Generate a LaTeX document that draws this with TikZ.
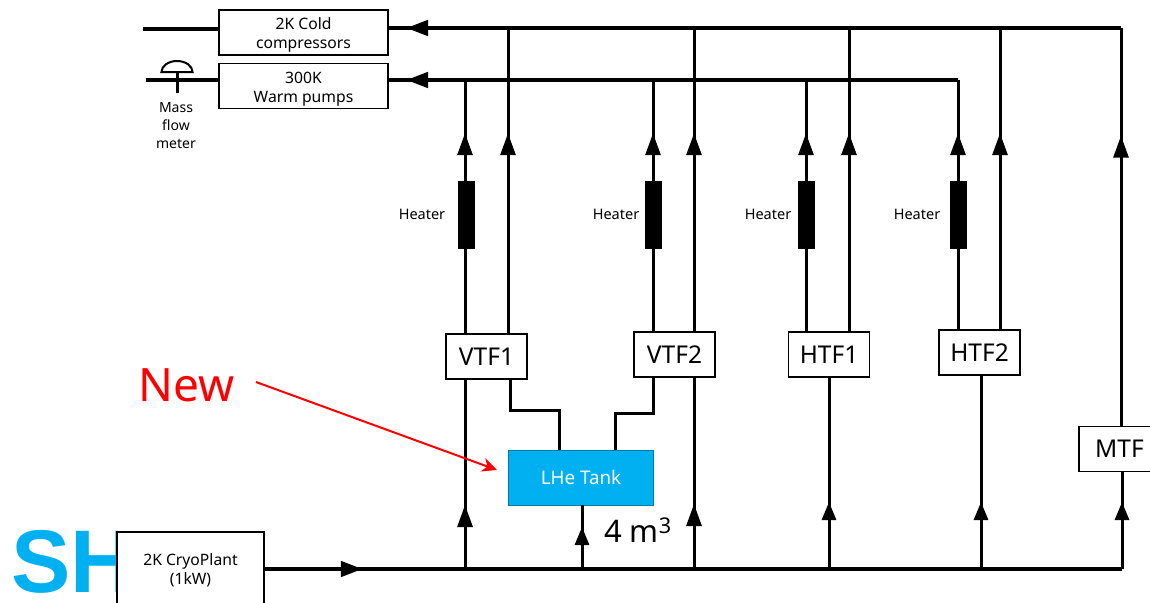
\documentclass[tikz,border=0pt]{standalone}
\usepackage{fontspec}
\setmainfont{Noto Sans}
\newfontfamily\logofont{Liberation Sans}
\usetikzlibrary{arrows.meta, decorations.markings}
\definecolor{tankblue}{RGB}{0,176,240}
\newcommand{\topgap}{\rule{0pt}{17pt}}
\tikzset{
  pipe/.style={line width=3pt},
  mainpipe/.style={line width=4.5pt},
  box/.style={draw, line width=1.6pt, fill=white, align=center, inner sep=0pt},
  smallbox/.style={box, minimum width=169pt, minimum height=45pt, font=\fontsize{15.7}{19}\selectfont},
  testbox/.style={box, minimum width=81pt, minimum height=45pt, font=\fontsize{24.5}{28}\selectfont},
  heater/.style={fill=black, inner sep=0pt, minimum width=17pt, minimum height=68pt},
  label/.style={font=\fontsize{14.5}{18}\selectfont, align=center, inner sep=0pt},
  tipat/.style={postaction={decorate, decoration={markings, mark=at position #1 with {\arrow{Triangle[length=22pt,width=15pt]}}}}},
  smalltip/.style={postaction={decorate, decoration={markings, mark=at position #1 with {\arrow{Triangle[length=18pt,width=14pt]}}}}}
}
\begin{document}
\begin{tikzpicture}[x=1pt,y=-1pt]
\useasboundingbox (0,0) rectangle (1150,602);
% logo, cut off by the plant box
\begin{scope}
\clip (0,500) rectangle (117,602);
\node[text=tankblue, font=\fontsize{89}{89}\selectfont\logofont\bfseries, inner sep=0pt, anchor=west] (logo) at (11,562) {SH};
\end{scope}

% boxes
\node[smallbox] (cold) at (303.5,32.5) {\topgap 2K Cold\\compressors};
\node[smallbox] (warm) at (303.5,86) {\topgap 300K\\Warm pumps};
\node[box, minimum width=147pt, minimum height=76pt, font=\fontsize{15.7}{19}\selectfont] (plant) at (190.5,570) {2K CryoPlant\\(1kW)};
\node[testbox] (vtfa) at (486.5,356.5) {VTF1};
\node[testbox] (vtfb) at (674.5,354.5) {VTF2};
\node[testbox] (htfa) at (829,354.5) {HTF1};
\node[testbox] (htfb) at (979.5,352.5) {HTF2};
\node[testbox] (mtf) at (1119.5,449) {MTF};
\node[fill=tankblue, draw=tankblue!70!black, line width=0.6pt, minimum width=145pt, minimum height=55pt, inner sep=0pt, text=white, font=\fontsize{18.8}{22}\selectfont] (tank) at (581,477.5) {LHe Tank};

% header points
\coordinate (coldin) at (143,29);
\coordinate (warmin) at (146,80);
\coordinate (coldend) at (1121,28);
\coordinate (warmend) at (958,80);
\coordinate (plantend) at (1122,569);
\coordinate (ca) at (508,28);
\coordinate (cb) at (694,28);
\coordinate (cc) at (849,28);
\coordinate (cd) at (1000,28);
\coordinate (wa) at (465,80);
\coordinate (wb) at (653,80);
\coordinate (wc) at (806,80);
\coordinate (ja) at (465,569);
\coordinate (jt) at (582,569);
\coordinate (jb) at (694,569);
\coordinate (jc) at (829,569);
\coordinate (jd) at (981,569);

% headers
\draw[mainpipe] (coldin) -- (cold.west |- coldin);
\draw[mainpipe] (warmin) -- (warm.west |- warmin);
\draw[mainpipe, tipat=552pt] (warmend) -- (warm.east |- warmend);
\draw[mainpipe, tipat=715pt] (coldend) -- (cold.east |- coldend);
\draw[mainpipe, tipat=98pt] (plant.east |- plantend) -- (plantend);

% returns to the warm and cold headers
\draw[pipe, tipat=200pt] (vtfa.north -| wa) -- (wa);
\draw[pipe, tipat=200pt] (vtfa.north -| ca) -- (ca);
\draw[pipe, tipat=198pt] (vtfb.north -| wb) -- (wb);
\draw[pipe, tipat=198pt] (vtfb.north -| cb) -- (cb);
\draw[pipe, tipat=198pt] (htfa.north -| wc) -- (wc);
\draw[pipe, tipat=198pt] (htfa.north -| cc) -- (cc);
\draw[pipe, tipat=196pt] (htfb.north -| warmend) -- (warmend);
\draw[pipe, tipat=196pt] (htfb.north -| cd) -- (cd);
\draw[pipe, tipat=290pt] (mtf.north -| coldend) -- (coldend);

% feeds from the plant line
\draw[pipe, tipat=64pt] (ja) -- (vtfa.south -| ja);
\draw[pipe, smalltip=42pt] (jt) -- (tank.south -| jt);
\draw[pipe, tipat=65pt] (jb) -- (vtfb.south -| jb);
\draw[pipe, smalltip=67pt] (jc) -- (htfa.south -| jc);
\draw[pipe, smalltip=67pt] (jd) -- (htfb.south -| jd);
\draw[pipe, smalltip=67pt] (plantend) -- (mtf.south -| plantend);

% tank lines
\coordinate (tla) at (510,410);
\coordinate (tra) at (653,413);
\draw[pipe] (vtfa.south -| tla) -- (tla) -- (tla -| 559,0) -- (tank.north -| 559,0);
\draw[pipe] (vtfb.south -| tra) -- (tra) -- (tra -| 615,0) -- (tank.north -| 615,0);

% heaters
\node[heater] (hta) at (466,215) {};
\node[heater] (htb) at (653,215) {};
\node[heater] (htc) at (806,215) {};
\node[heater] (htd) at (958,215) {};
\node[label] (hla) at (422,214) {Heater};
\node[label] (hlb) at (616,214) {Heater};
\node[label] (hlc) at (768,214) {Heater};
\node[label] (hld) at (917,214) {Heater};

% mass flow meter
\coordinate (mfm) at (177,72);
\draw[line width=2pt, fill=white] (161.5,72) arc[start angle=180, end angle=0, x radius=15.5, y radius=-11] -- cycle;
\draw[pipe] (mfm) -- (177,93);
\node[label, font=\fontsize{14}{18}\selectfont] (mfl) at (176,126) {Mass\\flow\\meter};

% note
\node[text=red, font=\fontsize{46}{50}\selectfont, inner sep=0pt] (new) at (187,385) {New};
\coordinate (newa) at (256,382);
\coordinate (newb) at (497,470);
\draw[red, line width=2pt, -{Stealth[length=15pt,width=14pt]}] (newa) -- (newb);
\node[font=\fontsize{31}{34}\selectfont, inner sep=0pt] (vol) at (638,530) {4 m\textsuperscript{3}};
\end{tikzpicture}
\end{document}
